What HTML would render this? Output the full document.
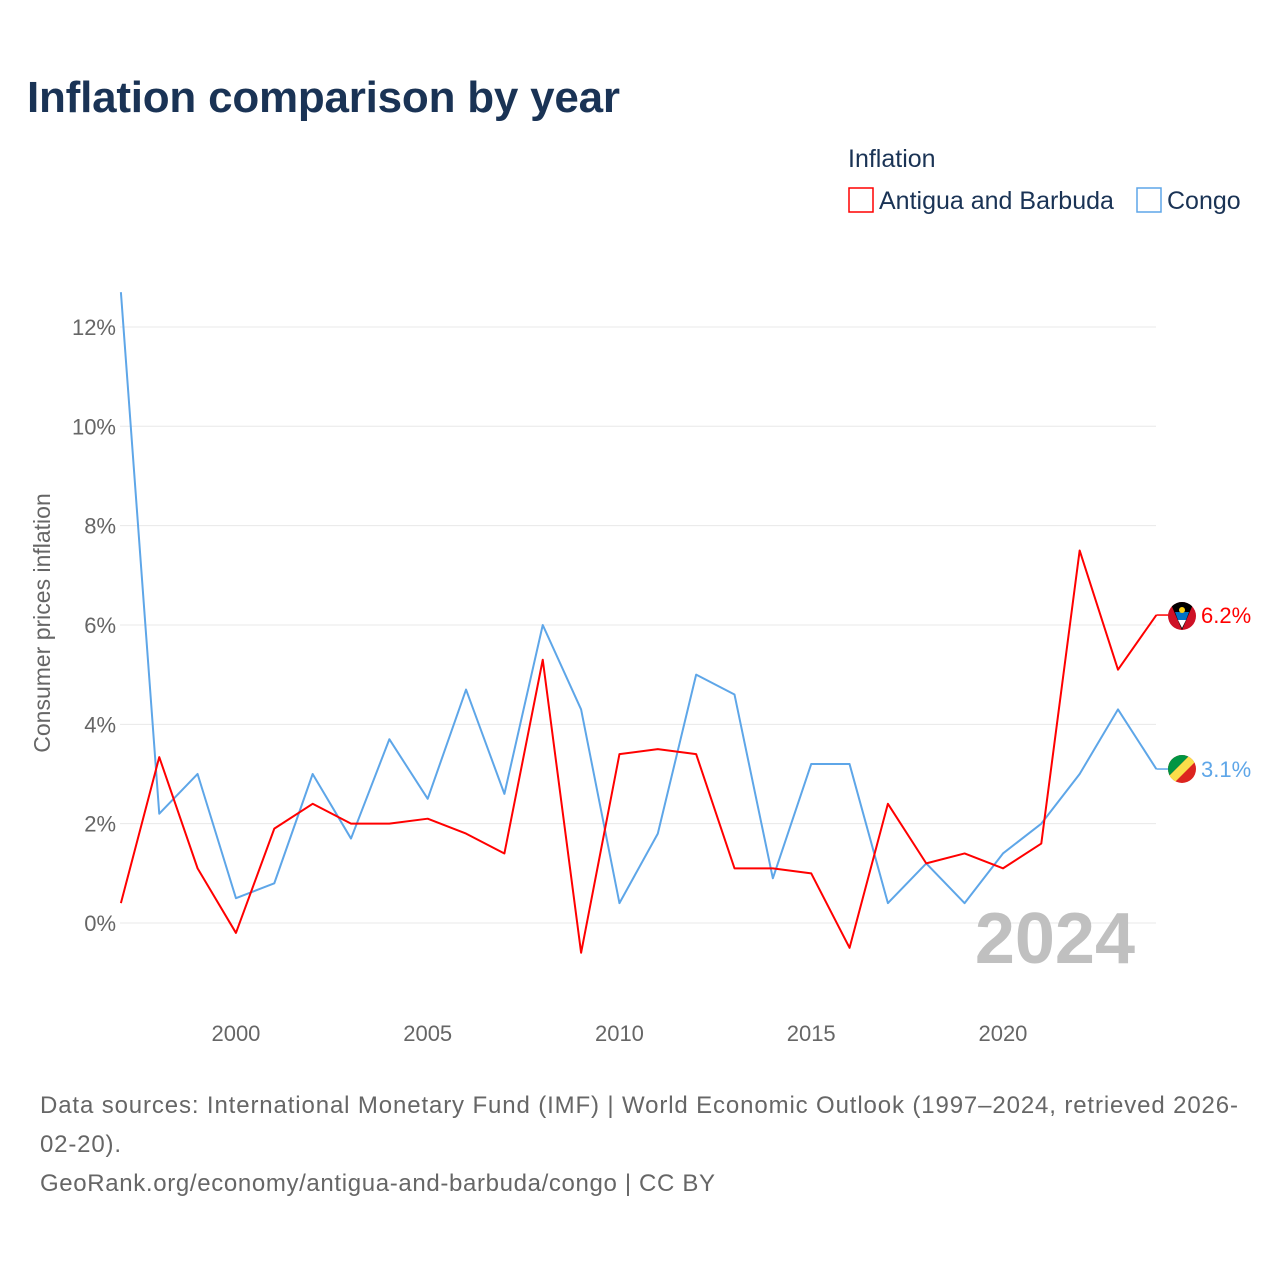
<!DOCTYPE html>
<html><head><meta charset="utf-8"><style>
body{margin:0;background:#fff;font-family:"Liberation Sans",sans-serif;}
#wrap{position:relative;width:1280px;height:1280px;overflow:hidden;}
</style></head><body>
<div id="wrap">
<svg id="chart" width="1280" height="1280">
<text x="27" y="112" font-size="44" font-weight="bold" fill="#1a3355" textLength="593">Inflation comparison by year</text>
<text x="848" y="167" font-size="25" fill="#1a3355">Inflation</text>
<g><rect x="849" y="188" width="24" height="24" fill="none" stroke="#ff0000" stroke-width="1.5"/><text x="879" y="209" font-size="25" fill="#1a3355">Antigua and Barbuda</text></g>
<g><rect x="1137" y="188" width="24" height="24" fill="none" stroke="#5ea6e8" stroke-width="1.5"/><text x="1167" y="209" font-size="25" fill="#1a3355">Congo</text></g>
<g id="grid"></g><g id="xt"></g>
<text x="1135" y="963" font-size="72" font-weight="bold" fill="#c0c0c0" text-anchor="end">2024</text>
<text transform="translate(50,623) rotate(-90)" font-size="23" fill="#666" text-anchor="middle">Consumer prices inflation</text>
<g id="lines"></g>
<g><clipPath id="c1"><circle cx="1182" cy="616" r="14"/></clipPath><g clip-path="url(#c1)"><rect x="1168" y="602" width="28" height="28" fill="#ce1126"/><polygon points="1170,602 1194,602 1182,630" fill="#000"/><polygon points="1175,612 1189,612 1186,620 1178,620" fill="#0072c6"/><polygon points="1178,620 1186,620 1182,628" fill="#fff"/><circle cx="1182" cy="610" r="3" fill="#fcd116"/></g></g>
<g><clipPath id="c2"><circle cx="1182" cy="769" r="14"/></clipPath><g clip-path="url(#c2)"><rect x="1168" y="755" width="28" height="28" fill="#dc241f"/><polygon points="1168,755 1190,755 1168,777" fill="#009543"/><polygon points="1190,755 1196,755 1196,761 1174,783 1168,783 1168,777" fill="#fbde4a"/></g></g>
<text x="40" y="1113" font-size="24" fill="#666" textLength="1198">Data sources: International Monetary Fund (IMF) | World Economic Outlook (1997–2024, retrieved 2026-</text>
<text x="40" y="1152" font-size="24" fill="#666" textLength="81">02-20).</text>
<text x="40" y="1191" font-size="24" fill="#666" textLength="675">GeoRank.org/economy/antigua-and-barbuda/congo | CC BY</text>
</svg></div>
<script>
const years=[1997,1998,1999,2000,2001,2002,2003,2004,2005,2006,2007,2008,2009,2010,2011,2012,2013,2014,2015,2016,2017,2018,2019,2020,2021,2022,2023,2024];
const antigua=[0.4,3.34,1.1,-0.2,1.9,2.4,2.0,2.0,2.1,1.8,1.4,5.3,-0.6,3.4,3.5,3.4,1.1,1.1,1.0,-0.5,2.4,1.2,1.4,1.1,1.6,7.5,5.1,6.2];
const congo=[12.7,2.2,3.0,0.5,0.8,3.0,1.7,3.7,2.5,4.7,2.6,6.0,4.3,0.4,1.8,5.0,4.6,0.9,3.2,3.2,0.4,1.2,0.4,1.4,2.0,3.0,4.3,3.1];
const yTicks=[0,2,4,6,8,10,12];
const xTicks=[2000,2005,2010,2015,2020];
const NS="http://www.w3.org/2000/svg";
const x=v=>120.9+(v-1997)*38.35;
const y=v=>923-v*49.67;
function mk(t,a,p){const e=document.createElementNS(NS,t);for(const k in a)e.setAttribute(k,a[k]);p.appendChild(e);return e;}
const g=document.getElementById('grid');
yTicks.forEach(t=>{
 const l=mk('line',{x1:120,x2:1156,y1:y(t),y2:y(t),stroke:'#e8e8e8','stroke-width':1},g);
 
 
 const tx=mk('text',{x:116,y:y(t)+8,'font-size':22,fill:'#666','text-anchor':'end'},g);
 tx.textContent=t+'%';
 
 
});
const xt=document.getElementById('xt');
xTicks.forEach(t=>{
 const tx=mk('text',{x:x(t),y:1041,'font-size':22,fill:'#666','text-anchor':'middle'},xt);
 tx.textContent=t;
 
 
});
const L=document.getElementById('lines');
function series(vals,col,name){
 const p=mk('polyline',{points:vals.map((v,i)=>x(years[i])+','+y(v)).join(' '),fill:'none',stroke:col,'stroke-width':2,'stroke-linejoin':'round'},L);
 
 
 const last=vals[vals.length-1];
 mk('line',{x1:x(2024),x2:x(2024)+12,y1:y(last),y2:y(last),stroke:col,'stroke-width':1.5},L);
 const t=mk('text',{x:1201,y:y(last)+8,'font-size':22,fill:col},L);
 t.textContent=last.toFixed(1)+'%';
 
 
}
series(congo,'#5ea6e8','congo');
series(antigua,'#ff0000','antigua');
</script>
</body></html>
